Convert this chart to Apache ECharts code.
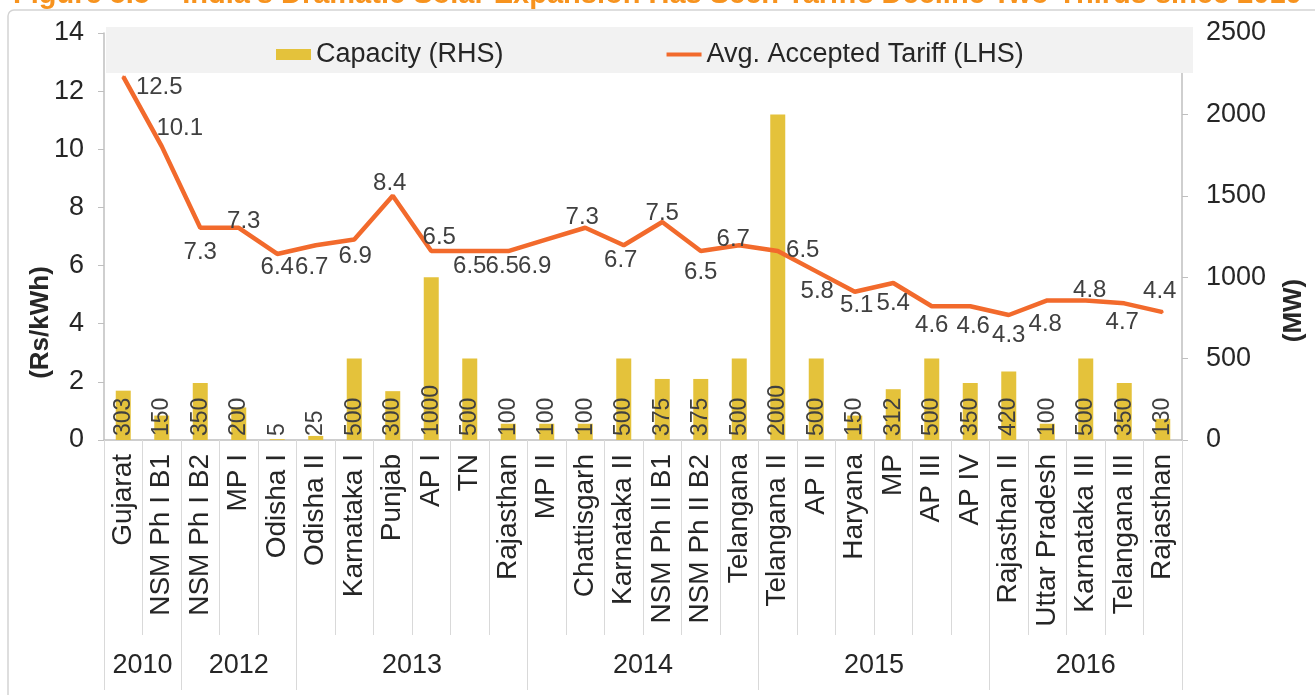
<!DOCTYPE html>
<html>
<head>
<meta charset="utf-8">
<script src="https://cdn.jsdelivr.net/npm/echarts@6/dist/echarts.min.js"></script>
<style>
html, body { margin: 0; padding: 0; background: #fff; }
#chart { width: 1315px; height: 695px; }
</style>
</head>
<body>
<div id="chart"></div>
<script>
// data
var sites = ['Gujarat', 'NSM Ph I B1', 'NSM Ph I B2', 'MP I', 'Odisha I', 'Odisha II', 'Karnataka I', 'Punjab',
    'AP I', 'TN', 'Rajasthan', 'MP II', 'Chattisgarh', 'Karnataka II', 'NSM Ph II B1', 'NSM Ph II B2',
    'Telangana', 'Telangana II', 'AP II', 'Haryana', 'MP', 'AP III', 'AP IV', 'Rajasthan II',
    'Uttar Pradesh', 'Karnataka III', 'Telangana III', 'Rajasthan'];
var tariff = [12.5, 10.1, 7.3, 7.3, 6.4, 6.7, 6.9, 8.4, 6.5, 6.5, 6.5, 6.9, 7.3, 6.7, 7.5, 6.5,
    6.7, 6.5, 5.8, 5.1, 5.4, 4.6, 4.6, 4.3, 4.8, 4.8, 4.7, 4.4];
var capacity = [303, 150, 350, 200, 5, 25, 500, 300, 1000, 500, 100, 100, 100, 500, 375, 375,
    500, 2000, 500, 150, 312, 500, 350, 420, 100, 500, 350, 130];
var years = ['2010', '2012', '2013', '2014', '2015', '2016'];
var yearCounts = [2, 3, 6, 6, 6, 5];

// where each tariff label sits relative to its point (px)
var tariffLabelOffsets = [[36, 11], [18, -18], [0, 25], [5, -6], [0, 13], [-4, 22], [1, 17], [-3, -12],
    [8, -14], [0, 15], [-6, 15], [-12, 27], [-3, -10], [-3, 15], [0, -9], [0, 21],
    [-6, -6], [25, -1], [1, 20], [2, 14], [0, 20], [0, 19], [3, 20], [0, 20],
    [-2, 24], [4, -10], [-2, 19], [-3, -21]];

var yearEdges = [0];
var yearMids = [];
yearCounts.forEach(function (n) {
    var s = yearEdges[yearEdges.length - 1];
    yearMids.push(s + n / 2);
    yearEdges.push(s + n);
});

var textCol = '#262626';
var gridCol = '#d9d9d9';
var font = 'Liberation Sans, Arial, sans-serif';

var myChart = echarts.init(document.getElementById('chart'));

var option = {
    animation: false,
    textStyle: { fontFamily: font },
    title: {
        text: "Figure 5.5 \u2013 India's Dramatic Solar Expansion Has Seen Tariffs Decline Two-Thirds since 2010",
        left: 8,
        top: -25,
        textStyle: { color: '#f7931e', fontSize: 29, fontWeight: 'bold', fontFamily: font }
    },
    graphic: [
        {
            type: 'rect',
            z: -1,
            shape: { x: 8, y: 10, width: 1320, height: 700, r: 6 },
            style: { fill: 'none', stroke: '#d4d4d4', lineWidth: 1.5 }
        },
        {
            type: 'rect',
            z: 3,
            shape: { x: 106, y: 27, width: 1087, height: 46 },
            style: { fill: '#f2f2f2' }
        }
    ],
    legend: {
        left: 271,
        top: 36,
        itemGap: 163,
        itemWidth: 35,
        itemHeight: 11,
        textStyle: { color: textCol, fontSize: 27, fontFamily: font },
        data: [
            { name: 'Capacity (RHS)', icon: 'rect' },
            { name: 'Avg. Accepted Tariff (LHS)', icon: 'path://M0 0H36V4H0Z' }
        ]
    },
    grid: { left: 104, right: 127, top: 33, bottom: 255 },
    xAxis: [
        {
            type: 'category',
            data: sites,
            position: 'bottom',
            axisLine: { lineStyle: { color: '#bfbfbf', width: 1.5 } },
            axisTick: { show: true, interval: 0, length: 195, lineStyle: { color: gridCol } },
            axisLabel: {
                interval: 0,
                rotate: 90,
                margin: 14,
                color: textCol,
                fontSize: 28,
                fontFamily: font
            }
        },
        {
            type: 'value',
            min: 0,
            max: sites.length,
            position: 'bottom',
            offset: 0,
            splitLine: { show: false },
            axisLine: { show: false },
            axisTick: { show: true, customValues: yearEdges, length: 250, lineStyle: { color: gridCol } },
            axisLabel: {
                customValues: yearMids,
                margin: 212,
                color: textCol,
                fontSize: 27,
                fontFamily: font,
                formatter: function (v) {
                    var i = yearMids.indexOf(v);
                    return i >= 0 ? years[i] : '';
                }
            }
        }
    ],
    yAxis: [
        {
            type: 'value',
            min: 0,
            max: 14,
            interval: 2,
            name: '(Rs/kWh)',
            nameLocation: 'middle',
            nameRotate: 90,
            nameGap: 50,
            nameMoveOverlap: false,
            nameTextStyle: { color: textCol, fontSize: 26, fontWeight: 'bold', fontFamily: font, padding: [0, 172, 0, 0] },
            splitLine: { show: false },
            axisLine: { show: true, lineStyle: { color: '#bfbfbf', width: 1.5 } },
            axisTick: { show: true, length: 6, lineStyle: { color: '#bfbfbf' } },
            axisLabel: { margin: 20, color: textCol, fontSize: 27, fontFamily: font }
        },
        {
            type: 'value',
            min: 0,
            max: 2500,
            interval: 500,
            name: '(MW)',
            nameLocation: 'middle',
            nameRotate: 90,
            nameGap: 99,
            nameMoveOverlap: false,
            nameTextStyle: { color: textCol, fontSize: 26, fontWeight: 'bold', fontFamily: font, padding: [0, 148, 0, 0] },
            splitLine: { show: false },
            axisLine: { show: true, lineStyle: { color: '#bfbfbf', width: 1.5 } },
            axisTick: { show: true, length: 6, lineStyle: { color: '#bfbfbf' } },
            axisLabel: {
                margin: 24, color: textCol, fontSize: 27, fontFamily: font,
                formatter: function (v) { return String(v); }
            }
        }
    ],
    series: [
        {
            name: 'Capacity (RHS)',
            type: 'bar',
            xAxisIndex: 0,
            yAxisIndex: 1,
            data: capacity,
            barWidth: 15,
            itemStyle: { color: '#e4c23b' },
            label: {
                show: true,
                position: 'insideBottom',
                distance: 4,
                rotate: 90,
                align: 'left',
                verticalAlign: 'middle',
                color: '#404040',
                fontSize: 23,
                fontFamily: font
            }
        },
        {
            name: 'Avg. Accepted Tariff (LHS)',
            type: 'line',
            xAxisIndex: 0,
            yAxisIndex: 0,
            data: tariff.map(function (v, i) {
                return { value: v, label: { offset: tariffLabelOffsets[i] } };
            }),
            symbol: 'circle',
            symbolSize: 2,
            showSymbol: true,
            lineStyle: { color: '#f26a2c', width: 4.5 },
            itemStyle: { color: '#f26a2c' },
            label: {
                show: true,
                position: 'inside',
                align: 'center',
                verticalAlign: 'middle',
                color: '#404040',
                fontSize: 24,
                fontFamily: font
            },
            z: 3
        }
    ]
};

myChart.setOption(option);
</script>
</body>
</html>
